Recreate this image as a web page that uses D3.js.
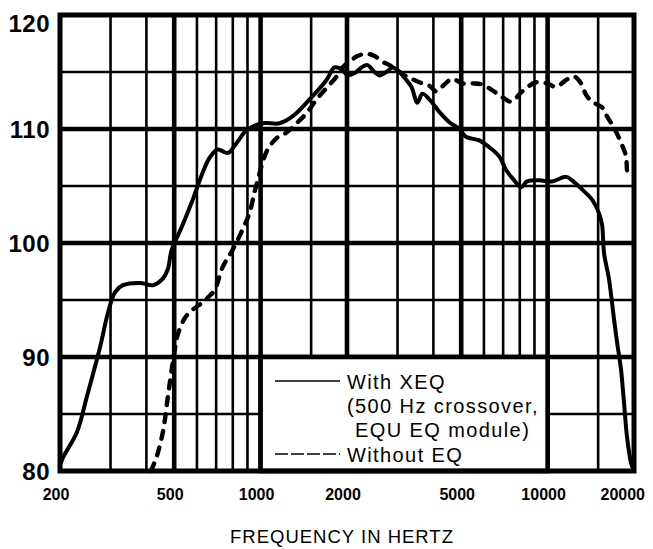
<!DOCTYPE html>
<html>
<head>
<meta charset="utf-8">
<script src="https://cdn.jsdelivr.net/npm/d3@7"></script>
<style>
  html, body { margin: 0; padding: 0; background: #fff; }
  svg { display: block; font-family: "Liberation Sans", Arial, Helvetica, sans-serif; }
</style>
</head>
<body>
<svg id="chart" width="653" height="549"></svg>
<script>
// ---- data ----
const withXeqFreq = [200,205,229,248,276,294,311,331,380,421,457,475,490,531,580,629,665,709,769,826,895,1017,1164,1292,1482,1697,1810,1929,2008,2124,2246,2358,2494,2595,2745,2880,3046,3170,3352,3518,3660,3872,4195,4545,4924,5209,5781,6262,6784,7174,7648,8090,8488,9343,10370,11602,12171,13186,14286,15112,15480,15730,16370,17040,17460,18020,18460,18910,19530,20000];
const withXeqDb   = [80.5,81.2,83.4,86.5,90.9,93.9,95.7,96.3,96.5,96.3,96.9,97.7,99.4,101.4,103.8,106.2,107.5,108.2,107.9,108.8,109.9,110.5,110.5,111.1,112.6,114.3,115.4,115.2,114.7,114.9,115.4,115.6,115.0,114.7,115.0,115.4,115.0,114.5,113.7,112.3,113.1,112.6,111.5,110.6,110.0,109.3,109.0,108.4,107.6,106.4,105.5,104.9,105.4,105.5,105.4,105.8,105.5,104.7,103.8,102.6,101.6,99.1,96.8,93.3,91.3,88.9,86.0,83.0,80.7,80.0];

const noEqFreq = [415,435,453,464,475,487,502,515,544,576,614,654,692,738,799,866,916,953,977,1017,1058,1137,1232,1335,1446,1567,1697,1839,1929,2040,2176,2338,2494,2659,2811,2974,3170,3352,3574,3872,4095,4368,4657,5045,5466,5921,6414,6948,7470,8155,9122,9964,10710,11602,12366,13081,13617,14286,15480,16110,17040,18020,18760,18910,19160];
const noEqDb   = [80.0,81.3,83.0,84.5,86.5,88.4,90.6,92.0,93.4,94.1,94.6,95.2,95.9,97.9,99.4,101.2,102.7,104.5,105.5,107.1,108.2,109.2,109.7,110.5,111.4,112.6,113.6,114.6,115.4,115.9,116.4,116.6,116.4,115.9,115.6,115.2,114.7,114.4,114.1,113.8,113.3,113.9,114.4,114.0,114.0,113.9,113.4,112.8,112.4,113.3,114.1,114.0,113.7,114.3,114.6,114.0,113.0,112.4,111.9,111.1,110.1,108.8,107.6,106.4,105.8];

const xTickLabels = [200,500,1000,2000,5000,10000,20000];
const yTickLabels = [80,90,100,110,120];
const xMajorGrid = [500,1000,2000,5000,10000];
const xMinorGrid = [300,400,600,700,800,900,1500,3000,4000,6000,7000,8000,9000,15000];
const yMajorGrid = [90,100,110];
const yMinorGrid = [85,95,105,115];
const legendLabels = ["With XEQ", "(500 Hz crossover,", " EQU EQ module)", "Without EQ"];
const axisTitle = "FREQUENCY IN HERTZ";

// ---- layout ----
const svg = d3.select("#chart");
const L = 60, R = 634, T = 15, B = 471;
const x = d3.scaleLog().domain([200, 20000]).range([L, R]);
const y = d3.scaleLinear().domain([80, 120]).range([B, T]);

const g = svg.append("g");

// grid
g.selectAll(".xmin").data(xMinorGrid).join("line")
  .attr("x1", d => x(d)).attr("x2", d => x(d)).attr("y1", T).attr("y2", B)
  .attr("stroke", "#000").attr("stroke-width", 2.6);
g.selectAll(".ymin").data(yMinorGrid).join("line")
  .attr("y1", d => y(d)).attr("y2", d => y(d)).attr("x1", L).attr("x2", R)
  .attr("stroke", "#000").attr("stroke-width", 2.6);
g.selectAll(".xmaj").data(xMajorGrid).join("line")
  .attr("x1", d => x(d)).attr("x2", d => x(d)).attr("y1", T).attr("y2", B)
  .attr("stroke", "#000").attr("stroke-width", 4.6);
g.selectAll(".ymaj").data(yMajorGrid).join("line")
  .attr("y1", d => y(d)).attr("y2", d => y(d)).attr("x1", L).attr("x2", R)
  .attr("stroke", "#000").attr("stroke-width", 4.6);

// legend box (covers grid)
const lx0 = x(1000), lx1 = x(10000), ly0 = y(90), ly1 = y(80);
g.append("rect").attr("x", lx0).attr("y", ly0).attr("width", lx1 - lx0).attr("height", ly1 - ly0)
  .attr("fill", "#fff").attr("stroke", "#000").attr("stroke-width", 4.6);

// border
g.append("rect").attr("x", L).attr("y", T).attr("width", R - L).attr("height", B - T)
  .attr("fill", "none").attr("stroke", "#000").attr("stroke-width", 5);

// curves
const line = d3.line().x(d => x(d[0])).y(d => y(d[1])).curve(d3.curveCatmullRom.alpha(0.5));
g.append("path").datum(d3.zip(withXeqFreq, withXeqDb)).attr("d", line)
  .attr("fill", "none").attr("stroke", "#000").attr("stroke-width", 4)
  .attr("stroke-linejoin", "round").attr("stroke-linecap", "round");
g.append("path").datum(d3.zip(noEqFreq, noEqDb)).attr("d", line)
  .attr("fill", "none").attr("stroke", "#000").attr("stroke-width", 4.4)
  .attr("stroke-dasharray", "8,9").attr("stroke-linecap", "round");

// axis labels
svg.append("g").selectAll("text").data(xTickLabels).join("text")
  .attr("x", (d, i) => i === xTickLabels.length - 1 ? x(d) + 11 : x(d) - 4)
  .attr("y", 500)
  .attr("text-anchor", (d, i) => i === xTickLabels.length - 1 ? "end" : "middle")
  .attr("font-size", 16).attr("font-weight", "bold")
  .text(d => d);

svg.append("g").selectAll("text").data(yTickLabels).join("text")
  .attr("x", 50)
  .attr("y", d => Math.max(y(d) + 9, 32))
  .attr("text-anchor", "end")
  .attr("font-size", 24).attr("font-weight", "bold").attr("letter-spacing", 0.5)
  .text(d => d);

svg.append("text").attr("x", 342).attr("y", 543).attr("text-anchor", "middle")
  .attr("font-size", 18.5).attr("letter-spacing", 1).text(axisTitle);

// legend
const lg = svg.append("g");
lg.append("line").attr("x1", 275).attr("x2", 340).attr("y1", 381).attr("y2", 381)
  .attr("stroke", "#000").attr("stroke-width", 1.6);
lg.append("line").attr("x1", 275).attr("x2", 340).attr("y1", 454).attr("y2", 454)
  .attr("stroke", "#000").attr("stroke-width", 1.6).attr("stroke-dasharray", "13,3");
const legendY = [389, 413, 437, 462];
lg.selectAll("text").data(legendLabels).join("text")
  .attr("x", (d, i) => i === 2 ? 355 : 347)
  .attr("y", (d, i) => legendY[i])
  .attr("font-size", 20).attr("letter-spacing", 1.4)
  .text(d => d.trim());
</script>
</body>
</html>
